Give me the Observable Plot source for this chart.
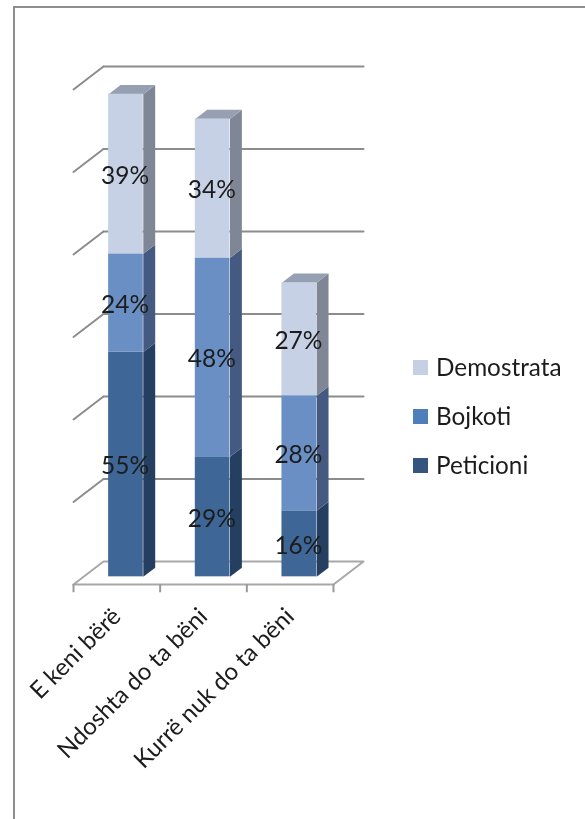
<!DOCTYPE html>
<html>
<head>
<meta charset="utf-8">
<script src="https://cdn.jsdelivr.net/npm/d3@7"></script>
<script src="https://cdn.jsdelivr.net/npm/@observablehq/plot@0.6"></script>
<style>
html,body{margin:0;padding:0;background:#fff}
#page{position:relative;width:585px;height:819px;overflow:hidden;font-family:Lato,sans-serif;color:#1c1c1c}
#page svg{display:block;filter:blur(.45px)}
#border{position:absolute;left:13px;top:6px;width:700px;height:900px;border:2px solid #8e8e8e;pointer-events:none}
#legend{position:absolute;left:413px;top:355px;font-size:24.3px;line-height:24px;filter:blur(.3px)}
.row{display:flex;align-items:center;height:24px;margin-bottom:25px}
.sw{width:15px;height:15px;margin-right:8px}
</style>
</head>
<body>
<div id="page"><div id="chart"></div><div id="border"></div><div id="legend"></div></div>
<script>
const categories = ["E keni bërë", "Ndoshta do ta bëni", "Kurrë nuk do ta bëni"];
const series = ["Peticioni", "Bojkoti", "Demostrata"];
const peticioni = [54.5, 29.1, 16.0];
const bojkoti = [23.8, 48.2, 27.9];
const demostrata = [38.7, 33.7, 27.4];
const yTicks = [0, 20, 40, 60, 80, 100, 120];

const frontColors = ["#3e6797", "#6a8fc4", "#c7d1e5"];
const sideColors = ["#243f60", "#445a80", "#7f8797"];
const topColor = "#979fb3";
const legendColors = ["#35557f", "#4f7fba", "#c6d0e4"];
const legendOrder = ["Demostrata", "Bojkoti", "Peticioni"];

// Oblique projection of the 3-D chart box: depth 0 is the front plane, depth 1 the back wall.
const DX = 30 / (260 / 3), DY = 23 / 4.125;
const at = (x, y, depth) => ({x: x + depth * DX, y: y + depth * DY});
const BAR_FRONT = 1 / 3, BAR_BACK = 0.73, BAR_CENTER = 0.49, BAR_HALF = 0.2;

const columns = [peticioni, bojkoti, demostrata];
const segments = [];
categories.forEach((cat, i) => {
  let y0 = 0;
  series.forEach((s, k) => {
    const v = columns[k][i];
    segments.push({i, cat, s, k, v, y1: y0, y2: y0 + v});
    y0 += v;
  });
});

const polygon = (id, fill, pts) => pts.map(p => ({...p, id, fill}));
const sides = [], tops = [];
for (const d of segments) {
  const xr = d.i + BAR_CENTER + BAR_HALF, xl = d.i + BAR_CENTER - BAR_HALF;
  sides.push(...polygon(`s${d.i}${d.k}`, sideColors[d.k], [
    at(xr, d.y1, BAR_FRONT), at(xr, d.y1, BAR_BACK), at(xr, d.y2, BAR_BACK), at(xr, d.y2, BAR_FRONT)
  ]));
  if (d.k === series.length - 1) {
    tops.push(...polygon(`t${d.i}`, topColor, [
      at(xl, d.y2, BAR_FRONT), at(xl, d.y2, BAR_BACK), at(xr, d.y2, BAR_BACK), at(xr, d.y2, BAR_FRONT)
    ]));
  }
}
const floor = [at(0, 0, 0), at(0, 0, 1), at(3, 0, 1), at(3, 0, 0), at(0, 0, 0)];
const wall = yTicks.slice(1).flatMap(t => [{...at(0, t, 0), t}, {...at(0, t, 1), t}]);
const grid = yTicks.slice(1).flatMap(t => [{...at(0, t, 1), t}, {...at(3, t, 1), t}]);

const frontOf = (d, key) => at(d.i + BAR_CENTER + (key === "l" ? -BAR_HALF : BAR_HALF), 0, BAR_FRONT).x;

const chart = Plot.plot({
  width: 585,
  height: 819,
  marginLeft: 73,
  marginRight: 252,
  marginTop: 89,
  marginBottom: 235,
  style: {fontFamily: "Lato, sans-serif", background: "transparent"},
  x: {domain: [0, 3], axis: null},
  y: {domain: [0, 120], axis: null},
  color: {domain: series, range: frontColors},
  marks: [
    Plot.line(floor, {x: "x", y: "y", fill: "#fff", stroke: "#a8a8a8", strokeWidth: 2}),
    Plot.line(wall, {x: "x", y: "y", z: "t", stroke: "#8c8c8c", strokeWidth: 2}),
    Plot.line(grid, {x: "x", y: "y", z: "t", stroke: "#8c8c8c", strokeWidth: 2}),
    Plot.ruleX([0, 1, 2, 3], {y1: 0, y2: -2, stroke: "#9a9a9a", strokeWidth: 2}),
    Plot.line(sides, {x: "x", y: "y", z: "id", fill: {value: "fill", scale: null}, stroke: "none"}),
    Plot.line(tops, {x: "x", y: "y", z: "id", fill: {value: "fill", scale: null}, stroke: "none"}),
    Plot.rect(segments, {
      x1: d => frontOf(d, "l"),
      x2: d => frontOf(d, "r"),
      y1: d => at(0, d.y1, BAR_FRONT).y,
      y2: d => at(0, d.y2, BAR_FRONT).y,
      fill: "s"
    }),
    Plot.text(segments, {
      x: d => d.i + BAR_CENTER + BAR_FRONT * DX - 0.01,
      y: d => at(0, (d.y1 + d.y2) / 2, BAR_FRONT).y,
      text: d => `${Math.round(d.v)}%`,
      fontSize: 24.5,
      fill: "#1c1c1c",
      dy: 2
    }),
    Plot.text(categories, {
      x: (d, i) => i + 0.5,
      y: () => 0,
      text: d => d,
      rotate: -45,
      textAnchor: "end",
      fontSize: 24,
      fill: "#1c1c1c",
      dx: 0,
      dy: 28
    })
  ]
});
document.getElementById("chart").appendChild(chart);

const legend = document.getElementById("legend");
for (const name of legendOrder) {
  const row = document.createElement("div");
  row.className = "row";
  const sw = document.createElement("div");
  sw.className = "sw";
  sw.style.background = legendColors[series.indexOf(name)];
  const label = document.createElement("span");
  label.textContent = name;
  row.append(sw, label);
  legend.append(row);
}
</script>
</body>
</html>
